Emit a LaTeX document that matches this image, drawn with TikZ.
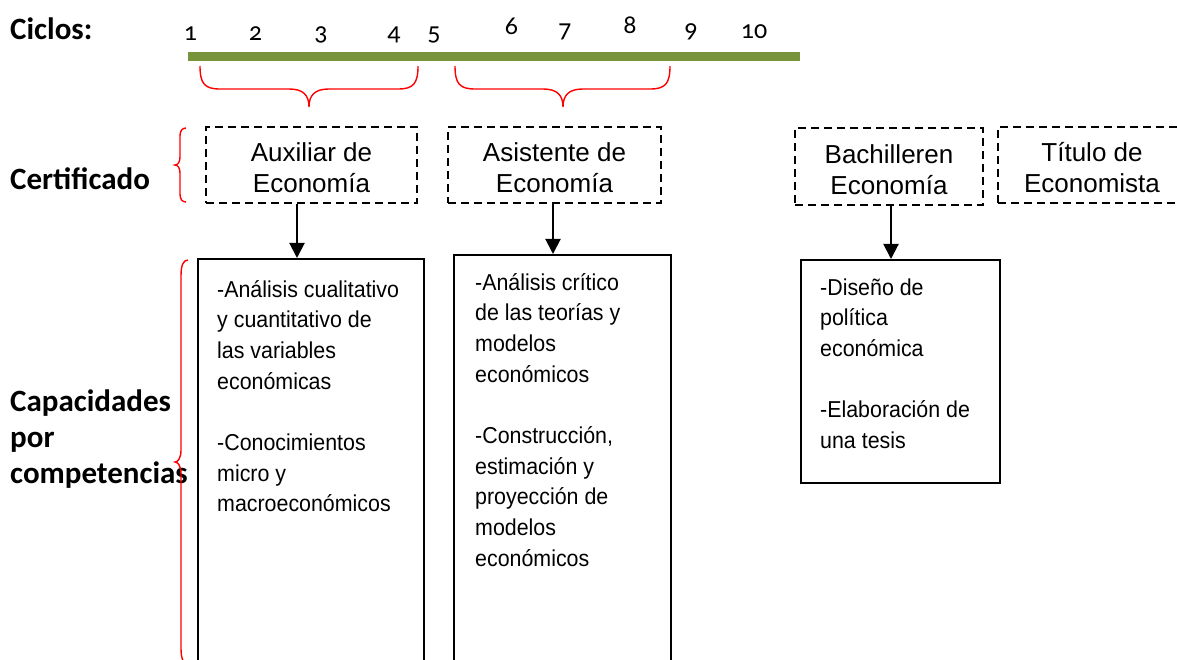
\documentclass[tikz,border=0pt]{standalone}
\usepackage{fontspec}
\usepackage{graphicx}
\setmainfont{Liberation Sans}
\newfontfamily\lblfont{Carlito}
\newfontfamily\numfont[Numbers=OldStyle]{Carlito}
\usetikzlibrary{arrows.meta,calc}
\definecolor{bargreen}{RGB}{119,147,60}
\newcommand{\lbl}[1]{{\lblfont\bfseries\fontsize{31}{34}\selectfont #1}}
\newcommand{\cyc}[1]{{\numfont\fontsize{26}{26}\selectfont #1}}
\newcommand{\stack}[1]{\scalebox{0.93}[1]{\vtop{\fontsize{23}{30.7}\selectfont\baselineskip=30.7pt\lineskiplimit=-50pt #1}}}
\newcommand{\cstack}[1]{\vtop{\hsize=220pt\centering\fontsize{26}{31}\selectfont\baselineskip=31pt\lineskiplimit=-50pt #1\par}}
\begin{document}
\begin{tikzpicture}[x=1pt,y=-1pt,
  certbox/.style={draw, dash pattern=on 8pt off 5pt, line width=2.2pt, inner sep=0pt},
  certtxt/.style={anchor=base, inner sep=0pt},
  capbox/.style={draw, line width=1.6pt, anchor=north west, inner sep=0pt},
  arr/.style={line width=2pt, -{Triangle[width=15pt,length=15pt]}},
  bracestyle/.style={red, line width=1.4pt},
  lbltxt/.style={anchor=base west, inner sep=0pt},
  numtxt/.style={anchor=base, inner sep=0pt},
  boxtxt/.style={anchor=base west, inner sep=0pt}]
\useasboundingbox (0,0) rectangle (1177,660);
\fill[white] (0,0) rectangle (1177,660);

% labels
\node[lbltxt] (ciclos) at (10,40) {\lbl{Ciclos:}};
\node[lbltxt] (cert) at (10,190) {\lbl{Certificado}};
\node[lbltxt] (cap1) at (10,411) {\lbl{Capacidades}};
\node[lbltxt] (cap2) at (10,447) {\lbl{por}};
\node[lbltxt] (cap3) at (10,483) {\lbl{competencias}};

% cycle numbers
\foreach \n/\x/\y in {1/190.5/41,2/255.5/41,3/321/41,4/394/41,5/434/41,6/511.5/35,7/565/38,8/630/34,9/691/38,10/754/39}
  \node[numtxt] (c\n) at (\x,\y) {\cyc{\n}};

% green bar
\draw[bargreen, line width=9pt] (188,57) -- (800,57);

% braces under the bar
\draw[bracestyle] (200,66) .. controls (200,84) and (205,89) .. (220,89) -- (289,89)
  .. controls (303,89) and (309,95) .. (309,107)
  .. controls (309,95) and (315,89) .. (329,89) -- (398,89)
  .. controls (413,89) and (418,84) .. (418,66);
\draw[bracestyle] (455,66) .. controls (455,84) and (460,89) .. (475,89) -- (543,89)
  .. controls (557,89) and (563,95) .. (563,107)
  .. controls (563,95) and (569,89) .. (583,89) -- (650,89)
  .. controls (665,89) and (670,84) .. (670,66);

% left braces
\draw[bracestyle] (186,128) .. controls (182,128) and (180,131) .. (180,136) -- (180,157)
  .. controls (180,162) and (178,165) .. (175,165)
  .. controls (178,165) and (180,168) .. (180,173) -- (180,194)
  .. controls (180,199) and (182,202) .. (186,202);
\draw[bracestyle] (188,260) .. controls (183,260) and (181,266) .. (181,276) -- (181,450)
  .. controls (181,458) and (178,462) .. (175,462)
  .. controls (178,462) and (181,466) .. (181,474) -- (181,648)
  .. controls (181,658) and (183,664) .. (188,664);

% certificate boxes
\node[certbox, minimum width=211pt, minimum height=76pt] (aux) at (311.5,165) {};
\node[certbox, minimum width=213pt, minimum height=76pt] (asi) at (554.5,165) {};
\node[certbox, minimum width=188pt, minimum height=77pt] (bac) at (889,166.5) {};
\node[certbox, minimum width=188pt, minimum height=76pt] (tit) at (1092,165) {};
\node[certtxt] (auxt) at (311.5,162) {\cstack{Auxiliar de\par Economía}};
\node[certtxt] (asit) at (554.5,162) {\cstack{Asistente de\par Economía}};
\node[certtxt] (bact) at (889,164) {\cstack{Bachilleren\par Economía}};
\node[certtxt] (titt) at (1092,162) {\cstack{Título de\par Economista}};

% capability boxes
\node[capbox, minimum width=226pt, minimum height=450pt] (b1) at (197,258) {};
\node[capbox, minimum width=217pt, minimum height=450pt] (b2) at (453,254) {};
\node[capbox, minimum width=199pt, minimum height=223pt] (b3) at (800,259) {};

\node[boxtxt] (t1) at (217,297) {\stack{\hbox{-Análisis cualitativo}\hbox{y cuantitativo de}\hbox{las variables}\hbox{económicas}\hbox{}\hbox{-Conocimientos}\hbox{micro y}\hbox{macroeconómicos}}};
\node[boxtxt] (t2) at (475,290) {\stack{\hbox{-Análisis crítico}\hbox{de las teorías y}\hbox{modelos}\hbox{económicos}\hbox{}\hbox{-Construcción,}\hbox{estimación y}\hbox{proyección de}\hbox{modelos}\hbox{económicos}}};
\node[boxtxt] (t3) at (820,295) {\stack{\hbox{-Diseño de}\hbox{política}\hbox{económica}\hbox{}\hbox{-Elaboración de}\hbox{una tesis}}};

% arrows
\draw[arr] ([xshift=-14.5pt]aux.south) -- ([xshift=-14.5pt]aux.south |- b1.north);
\draw[arr] ([xshift=-1.5pt]asi.south) -- ([xshift=-1.5pt]asi.south |- b2.north);
\draw[arr] ([xshift=2pt]bac.south) -- ([xshift=2pt]bac.south |- b3.north);
\end{tikzpicture}
\end{document}
